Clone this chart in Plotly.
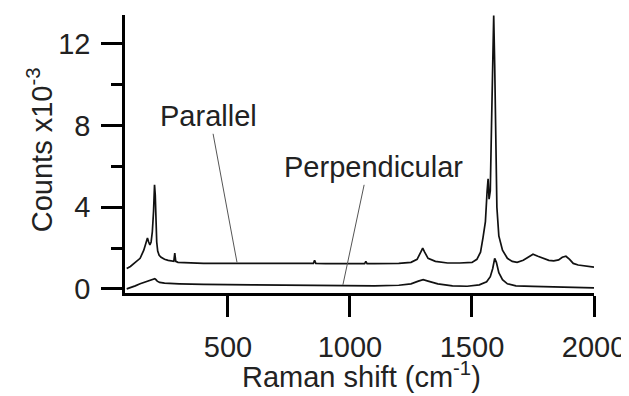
"""Polarized Raman spectra: parallel vs perpendicular."""
import plotly.graph_objects as go

# Raman shift (cm^-1) and counts (x10^-3)
par_x = [85, 100, 120, 140, 155, 165, 170, 175, 180, 185, 190, 195, 199, 202, 205,
         208, 212, 218, 226, 240, 255, 270, 278, 282, 286, 295, 320, 400, 500, 600,
         700, 800, 850, 855, 860, 900, 1000, 1060, 1065, 1070, 1100, 1200, 1250,
         1275, 1290, 1298, 1306, 1320, 1350, 1400, 1450, 1500, 1520, 1535, 1545,
         1555, 1562, 1566, 1570, 1575, 1580, 1585, 1589, 1593, 1597, 1602, 1610,
         1625, 1645, 1665, 1685, 1710, 1730, 1750, 1770, 1790, 1815, 1835, 1855,
         1870, 1885, 1900, 1915, 1935, 1960, 2000]
par_y = [1.0, 1.1, 1.3, 1.5, 1.9, 2.3, 2.5, 2.3, 2.15, 2.3, 2.8, 3.8, 5.1, 4.6, 3.2,
         2.3, 1.85, 1.65, 1.55, 1.45, 1.4, 1.35, 1.35, 1.75, 1.35, 1.3, 1.28, 1.25,
         1.25, 1.25, 1.24, 1.25, 1.25, 1.4, 1.25, 1.24, 1.24, 1.24, 1.35, 1.24,
         1.24, 1.25, 1.3, 1.45, 1.8, 2.0, 1.8, 1.5, 1.35, 1.27, 1.27, 1.3, 1.45,
         1.8, 2.5, 3.3, 4.8, 5.4, 4.4, 4.8, 8.0, 12.0, 13.4, 11.0, 7.0, 4.0, 2.6,
         1.9, 1.5, 1.35, 1.3, 1.4, 1.55, 1.7, 1.6, 1.5, 1.4, 1.37, 1.42, 1.55,
         1.6, 1.45, 1.25, 1.17, 1.12, 1.07]

perp_x = [85, 100, 120, 140, 160, 180, 195, 200, 205, 210, 220, 240, 300, 400, 600,
          800, 1000, 1100, 1200, 1250, 1280, 1300, 1320, 1360, 1420, 1480, 1530,
          1560, 1575, 1585, 1593, 1600, 1610, 1625, 1645, 1680, 1750, 1850, 1950,
          2000]
perp_y = [0.0, 0.05, 0.15, 0.25, 0.33, 0.4, 0.45, 0.5, 0.45, 0.38, 0.32, 0.28, 0.25,
          0.22, 0.2, 0.17, 0.15, 0.15, 0.18, 0.25, 0.38, 0.45, 0.38, 0.25, 0.15,
          0.13, 0.2, 0.35, 0.6, 1.0, 1.5, 1.3, 0.8, 0.45, 0.25, 0.15, 0.12, 0.1,
          0.07, 0.05]

FONT = "Liberation Sans, Arial, sans-serif"
TXT = "#222222"

fig = go.Figure()
for xs, ys in [(par_x, par_y), (perp_x, perp_y)]:
    fig.add_trace(go.Scatter(x=xs, y=ys, mode="lines",
                             line=dict(color="#111111", width=1.7), showlegend=False))

# leader lines from the labels to the curves
fig.add_shape(type="line", x0=439, y0=7.6, x1=537, y1=1.3,
              line=dict(color="#555555", width=1))
fig.add_shape(type="line", x0=1058, y0=5.1, x1=971, y1=0.2,
              line=dict(color="#555555", width=1))
fig.add_annotation(x=422, y=8.45, text="Parallel", showarrow=False,
                   font=dict(size=29, color=TXT, family=FONT))
fig.add_annotation(x=1096, y=5.95, text="Perpendicular", showarrow=False,
                   font=dict(size=29, color=TXT, family=FONT))

# axis titles
fig.add_annotation(xref="paper", yref="paper", x=-0.181, y=0.514,
                   xanchor="center", yanchor="middle",
                   text="Counts x10<sup>-3</sup>", textangle=-90, showarrow=False,
                   font=dict(size=29, color=TXT, family=FONT))
fig.add_annotation(xref="paper", yref="paper", x=0.505, y=-0.295,
                   xanchor="center", yanchor="middle",
                   text="Raman shift (cm<sup>-1</sup>)", showarrow=False,
                   font=dict(size=29, color=TXT, family=FONT))

axis_common = dict(showgrid=False, zeroline=False, showline=True, linecolor="black",
                   linewidth=2.5, ticks="outside", tickcolor="black", tickwidth=2.5,
                   ticklen=21, automargin=False,
                   tickfont=dict(size=29, color=TXT, family=FONT))
fig.update_xaxes(range=[78, 2000], tickvals=[500, 1000, 1500, 2000],
                 ticklabelstandoff=5, **axis_common)
fig.update_yaxes(range=[-0.2, 13.42], tickvals=[0, 4, 8, 12],
                 minor=dict(ticks="outside", ticklen=11, tickwidth=2.5,
                            tickcolor="black", dtick=2),
                 ticklabelstandoff=5, **axis_common)
# the page body adds ~8px offset, so the figure is 8px smaller than the window
fig.update_layout(width=621, height=388, plot_bgcolor="white", paper_bgcolor="white",
                  margin=dict(l=117, r=35, t=7, b=103))
fig.write_html("out.html")
